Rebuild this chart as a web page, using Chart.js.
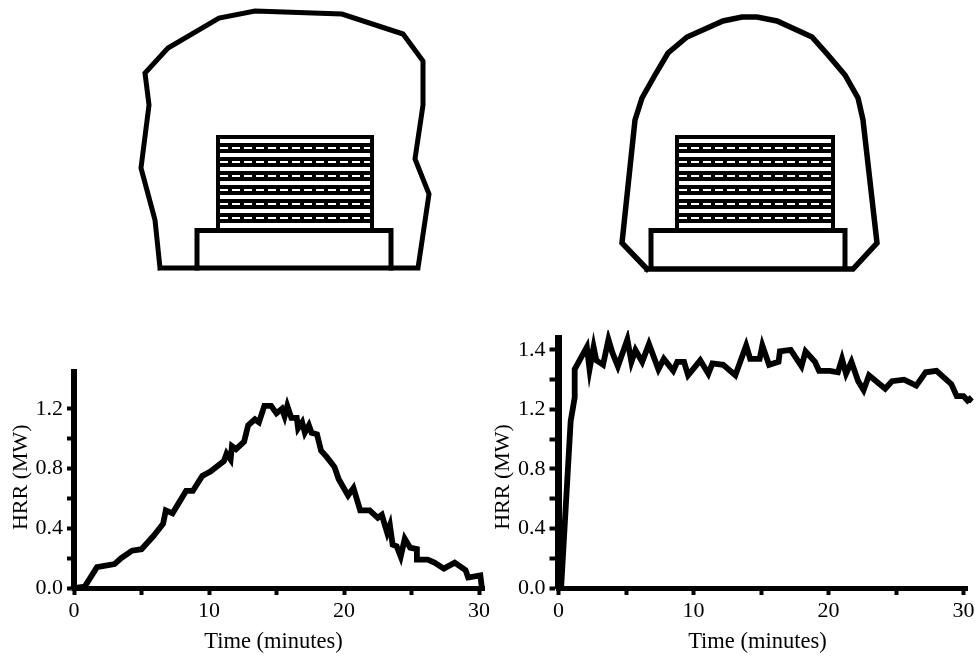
<!DOCTYPE html>
<html>
<head>
<meta charset="utf-8">
<title>HRR</title>
<script src="https://cdn.jsdelivr.net/npm/chart.js@4"></script>
<style>
  body { margin: 0; background: #fff; }
  canvas { position: absolute; }
</style>
</head>
<body>
<canvas id="sketchChart" width="979" height="300" style="left:0;top:0"></canvas>
<canvas id="leftChart" width="490" height="326" style="left:0;top:330px"></canvas>
<canvas id="rightChart" width="489" height="326" style="left:490px;top:330px"></canvas>
<script>
// Left fire curve: time (min), HRR (MW)
const leftTime = [0,0.8,1.7,3.0,3.5,4.3,5.0,5.9,6.6,6.8,7.3,8.3,8.8,9.5,10.1,11.1,11.3,11.6,11.7,12.0,12.6,12.9,13.4,13.7,14.1,14.6,15.0,15.4,15.6,15.8,16.1,16.5,16.6,16.9,17.1,17.4,17.6,18.0,18.3,18.7,19.3,19.6,20.3,20.7,21.2,21.9,22.5,22.8,23.2,23.4,23.6,23.9,24.2,24.5,24.9,25.4,25.4,26.2,26.7,27.4,28.2,29.0,29.2,30.1,30.2];
const leftHrr = [0,0.01,0.14,0.16,0.2,0.25,0.26,0.35,0.43,0.52,0.50,0.65,0.65,0.75,0.78,0.85,0.9,0.86,0.95,0.93,0.98,1.09,1.13,1.11,1.22,1.22,1.17,1.2,1.15,1.22,1.14,1.14,1.07,1.11,1.04,1.09,1.04,1.03,0.92,0.88,0.81,0.73,0.62,0.67,0.52,0.52,0.47,0.49,0.37,0.42,0.29,0.28,0.21,0.33,0.27,0.26,0.19,0.19,0.17,0.13,0.17,0.12,0.07,0.085,0.01];

// Right fire curve, on the axis as it is spaced in the picture.
// It runs past the end of the axis; the last point steps back, which keeps Chart.js drawing all of it
const rightTime = [0,0.2,0.9,1.2,1.2,2.1,2.3,2.6,2.8,3.3,3.7,4.0,4.4,5.1,5.4,5.7,6.2,6.7,7.4,7.8,8.5,8.8,9.3,9.6,10.5,11.1,11.4,12.2,13.1,13.9,14.2,14.9,15.1,15.6,16.3,16.4,17.2,18.0,18.3,19.0,19.3,20.1,20.7,21.0,21.3,21.7,22.2,22.6,23.0,24.2,24.7,25.6,26.5,27.2,28.0,29.1,29.5,30.0,30.3,30.6,30.5];
const rightHrr = [0,0.01,1.12,1.28,1.47,1.62,1.47,1.62,1.53,1.50,1.67,1.58,1.49,1.67,1.52,1.60,1.52,1.64,1.47,1.54,1.46,1.52,1.52,1.43,1.53,1.44,1.51,1.50,1.43,1.63,1.54,1.54,1.63,1.50,1.52,1.59,1.60,1.49,1.59,1.52,1.46,1.46,1.45,1.54,1.44,1.52,1.39,1.33,1.43,1.34,1.39,1.40,1.36,1.45,1.46,1.37,1.29,1.29,1.26,1.28,1.27];

// Tick labels, one per tick (5 min and 0.2 MW steps)
const xTickLabels = ['0','','10','','20','','30'];
const leftYLabels = ['0.0','','0.4','','0.8','','1.2'];
const rightYLabels = ['0.0','','0.4','','0.8','','1.2','','1.4'];

// Room sketches, in sketch units
const leftRoom = [[160,268],[155,220],[141,168],[149,105],[145,73],[168,48],[219,18],[255,11],[342,14],[403,34],[423,61],[423,105],[415,159],[429,194],[418,268],[160,268]];
const rightRoom = [[647,269],[622,243],[635,120],[642,98],[655,75],[668,53],[687,37],[723,21],[742,17],[757,17],[777,21],[812,37],[828,55],[845,75],[858,98],[863,120],[877,243],[853,269],[647,269]];
const leftStack = [[218,230],[218,137],[372,137],[372,230]];
const rightStack = [[677,230],[677,137],[833,137],[833,230]];
const leftBase = [[197,268],[197,230.5],[391,230.5],[391,268]];
const rightBase = [[651,267],[651,230.5],[845,230.5],[845,267]];
const layerY = [148,162,176,190,204,218];

const pairs = (xs, ys) => xs.map((x, i) => ({x: x, y: ys[i]}));
const toPoints = list => list.map(p => ({x: p[0], y: p[1]}));

Chart.defaults.font.family = '"Liberation Serif", serif';
Chart.defaults.color = '#000';
Chart.defaults.animation = false;

function outline(points, width) {
    return {
        data: toPoints(points), showLine: true, pointRadius: 0,
        borderColor: '#000', borderWidth: width, borderJoinStyle: 'miter', borderCapStyle: 'square'
    };
}

function layerLines(x1, x2) {
    const out = [];
    // white dashes sit on top of the black bands, so they go first
    layerY.forEach(y => out.push({
        data: toPoints([[x1 + 2, y], [x2 - 2, y]]), showLine: true, pointRadius: 0,
        borderColor: '#fff', borderWidth: 2, borderDash: [8, 4]
    }));
    layerY.forEach(y => out.push({
        data: toPoints([[x1, y], [x2, y]]), showLine: true, pointRadius: 0,
        borderColor: '#000', borderWidth: 10
    }));
    return out;
}

new Chart(document.getElementById('sketchChart'), {
    type: 'scatter',
    data: {
        datasets: [
            ...layerLines(218, 372),
            ...layerLines(677, 833),
            outline(leftStack, 4), outline(rightStack, 4),
            outline(leftBase, 5), outline(rightBase, 5),
            outline(leftRoom, 5), outline(rightRoom, 5.5)
        ]
    },
    options: {
        responsive: false,
        plugins: { legend: { display: false }, tooltip: { enabled: false } },
        scales: {
            x: { display: false, min: 0, max: 979 },
            y: { display: false, min: 0, max: 300, reverse: true }
        }
    }
});

// the scales would otherwise reserve room for the end labels and move the plot area
function noScalePadding(s) {
    s.paddingTop = 0; s.paddingBottom = 0; s.paddingLeft = 0; s.paddingRight = 0;
}

function hrrChart(cfg) {
    new Chart(document.getElementById(cfg.id), {
        type: 'scatter',
        data: {
            datasets: [{
                data: cfg.points, showLine: true, pointRadius: 0, clip: false,
                borderColor: '#000', borderWidth: 5.8, borderJoinStyle: 'miter', borderCapStyle: 'square'
            }]
        },
        options: {
            responsive: false,
            layout: { padding: cfg.pad },
            plugins: { legend: { display: false }, tooltip: { enabled: false } },
            scales: {
                x: {
                    min: 0, max: cfg.xMax,
                    afterFit: s => { s.height = 68; noScalePadding(s); },
                    border: { width: 5, color: '#000' },
                    grid: { drawOnChartArea: false, tickLength: 7, tickWidth: 4, tickColor: '#000' },
                    ticks: {
                        stepSize: 5, includeBounds: false, autoSkip: false, maxRotation: 0, padding: 3,
                        font: { size: 22 },
                        callback: (v, i) => xTickLabels[i]
                    },
                    // trailing spaces push the centred title left, as in the reference
                    title: { display: true, text: 'Time (minutes)  ', font: { size: 22.5 }, padding: { top: 0, bottom: 0 } }
                },
                y: {
                    min: 0, max: cfg.yMax,
                    afterFit: s => { s.width = cfg.yWidth; noScalePadding(s); },
                    border: { width: cfg.axisWidth, color: '#000' },
                    grid: { drawOnChartArea: false, tickLength: cfg.tickLength, tickWidth: 4, tickColor: '#000' },
                    ticks: {
                        stepSize: 0.2, includeBounds: false, autoSkip: false, padding: 4,
                        font: { size: 22 },
                        callback: (v, i) => cfg.yLabels[i]
                    },
                    title: { display: true, text: cfg.yTitle, font: { size: 22 }, padding: { top: cfg.titlePad, bottom: 0 } }
                }
            }
        }
    });
}

hrrChart({
    id: 'leftChart', points: pairs(leftTime, leftHrr), yLabels: leftYLabels, xMax: 30.4, yMax: 1.447,
    yWidth: 74, axisWidth: 6, tickLength: 7, titlePad: 8.5, yTitle: ' HRR (MW)', pad: { top: 42, right: 5.6 }
});
hrrChart({
    id: 'rightChart', points: pairs(rightTime, rightHrr), yLabels: rightYLabels, xMax: 30.3, yMax: 1.677,
    yWidth: 68.5, axisWidth: 7, tickLength: 9, titlePad: 0, yTitle: 'HRR (MW)     ', pad: { top: 8.5, right: 11.45 }
});
</script>
</body>
</html>
